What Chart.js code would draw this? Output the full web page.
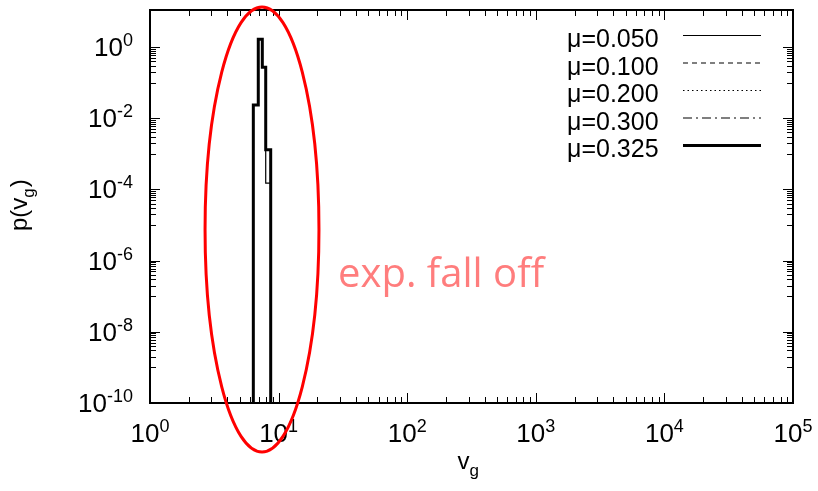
<!DOCTYPE html>
<html>
<head>
<meta charset="utf-8">
<style>
  html, body { margin: 0; padding: 0; background: #fff; }
  canvas { display: block; }
</style>
</head>
<body>
<canvas id="histChart" width="818" height="491"></canvas>
<script src="https://cdn.jsdelivr.net/npm/chart.js@4.4.1/dist/chart.umd.min.js"></script>
<script>
    // bin edges of the v_g histogram and p(v_g) per bin for each mu
    const binEdges = [6.36, 6.95, 7.47, 7.94, 8.68];
    const muLabels = ["μ=0.050", "μ=0.100", "μ=0.200", "μ=0.300", "μ=0.325"];
    const p050 = [0.0235, 1.65, 0.27, 1.5e-4];
    const p100 = [0.0235, 1.65, 0.27, 1.3e-3];
    const p200 = [0.0235, 1.65, 0.27, 1.3e-3];
    const p300 = [0.0235, 1.65, 0.27, 1.3e-3];
    const p325 = [0.0235, 1.65, 0.27, 1.3e-3];

    const xTickExp = [0, 1, 2, 3, 4, 5];
    const yTickExp = [0, -2, -4, -6, -8, -10];

    const yMin = 1e-10, yMax = 11;

    const lineStyles = [
        { width: 1.2, dash: [] },
        { width: 1.2, dash: [5, 4] },
        { width: 1.2, dash: [1.5, 3] },
        { width: 1.2, dash: [9, 4, 2, 4] },
        { width: 3, dash: [] }
    ];

    // histogram outline: rise from the floor, one step per bin, back down
    function outline(values) {
        const pts = [{ x: binEdges[0], y: yMin }];
        values.forEach((v, i) => pts.push({ x: binEdges[i], y: v }));
        pts.push({ x: binEdges[binEdges.length - 1], y: yMin });
        return pts;
    }

    const series = [p050, p100, p200, p300, p325];
    const datasets = series.map((vals, i) => ({
        label: muLabels[i],
        data: outline(vals),
        borderColor: "#000",
        borderWidth: lineStyles[i].width,
        borderDash: lineStyles[i].dash,
        stepped: "before",
        pointRadius: 0,
        fill: false,
        order: series.length - i
    }));

    function drawPower(ctx, exp, x, y, align) {
        const base = "10", sup = String(exp);
        ctx.font = "26px 'Liberation Sans', Arial, sans-serif";
        const wb = ctx.measureText(base).width;
        ctx.font = "18px 'Liberation Sans', Arial, sans-serif";
        const ws = ctx.measureText(sup).width;
        let left = align === "right" ? x - wb - ws : x - (wb + ws) / 2;
        ctx.textAlign = "left";
        ctx.textBaseline = "alphabetic";
        ctx.font = "26px 'Liberation Sans', Arial, sans-serif";
        ctx.fillText(base, left, y);
        ctx.font = "18px 'Liberation Sans', Arial, sans-serif";
        ctx.fillText(sup, left + wb, y - 10);
    }

    const framePlugin = {
        id: "gnuFrame",
        beforeDatasetsDraw(chart) {
            const ctx = chart.ctx, a = chart.chartArea;
            const xs = chart.scales.x, ys = chart.scales.y;
            ctx.save();
            ctx.strokeStyle = "#000";
            ctx.lineWidth = 1;
            ctx.beginPath();
            // x ticks, bottom and top, pointing inward
            for (let d = 0; d < 5; d++) {
                for (let k = 1; k <= 9; k++) {
                    const px = Math.round(xs.getPixelForValue(k * Math.pow(10, d))) + 0.5;
                    const len = k === 1 ? 10 : 6;
                    ctx.moveTo(px, a.bottom); ctx.lineTo(px, a.bottom - len);
                    ctx.moveTo(px, a.top); ctx.lineTo(px, a.top + len);
                }
            }
            // y ticks: majors every two decades, minors at k/10 of each major
            for (let e = 0; e >= -8; e -= 2) {
                const major = Math.pow(10, e);
                for (let k = 1; k <= 10; k++) {
                    const val = major * k / 10;
                    const py = Math.round(ys.getPixelForValue(val)) + 0.5;
                    const len = k === 10 ? 10 : 6;
                    ctx.moveTo(a.left, py); ctx.lineTo(a.left + len, py);
                    ctx.moveTo(a.right, py); ctx.lineTo(a.right - len, py);
                }
            }
            ctx.stroke();
            ctx.restore();
        },
        afterDraw(chart) {
            const ctx = chart.ctx, a = chart.chartArea;
            const xs = chart.scales.x, ys = chart.scales.y;
            ctx.save();
            // frame
            ctx.strokeStyle = "#000";
            ctx.lineWidth = 2;
            ctx.strokeRect(a.left, a.top, a.right - a.left, a.bottom - a.top);

            // tick labels
            ctx.fillStyle = "#000";
            xTickExp.forEach(e => {
                drawPower(ctx, e, xs.getPixelForValue(Math.pow(10, e)), a.bottom + 39, "center");
            });
            yTickExp.forEach(e => {
                drawPower(ctx, e, a.left - 17, ys.getPixelForValue(Math.pow(10, e)) + 9, "right");
            });

            // axis titles
            ctx.font = "24px 'Liberation Sans', Arial, sans-serif";
            ctx.textAlign = "left";
            ctx.textBaseline = "alphabetic";
            const vx = (a.left + a.right) / 2 - 14;
            ctx.fillText("v", vx, a.bottom + 66);
            const wv = ctx.measureText("v").width;
            ctx.font = "17px 'Liberation Sans', Arial, sans-serif";
            ctx.fillText("g", vx + wv, a.bottom + 73);

            ctx.save();
            ctx.translate(27, 231);
            ctx.rotate(-Math.PI / 2);
            ctx.font = "24px 'Liberation Sans', Arial, sans-serif";
            ctx.fillText("p(v", 0, 0);
            let w = ctx.measureText("p(v").width;
            ctx.font = "17px 'Liberation Sans', Arial, sans-serif";
            ctx.fillText("g", w, 7);
            w += ctx.measureText("g").width;
            ctx.font = "24px 'Liberation Sans', Arial, sans-serif";
            ctx.fillText(")", w + 1, 0);
            ctx.restore();

            // key
            chart.data.datasets.forEach((ds, i) => {
                const ly = a.top + 25 + i * 27.5;
                ctx.font = "25px 'Liberation Sans', Arial, sans-serif";
                ctx.textAlign = "left";
                ctx.fillText(ds.label, a.right - 226, ly + 12);
                ctx.beginPath();
                ctx.lineWidth = ds.borderWidth;
                ctx.setLineDash(ds.borderDash);
                ctx.moveTo(a.right - 110, ly + 0.5);
                ctx.lineTo(a.right - 32, ly + 0.5);
                ctx.stroke();
            });
            ctx.setLineDash([]);

            // ring around the peak and the note next to it
            const l = xs.getPixelForValue(2.68), r = xs.getPixelForValue(20.6);
            const t = ys.getPixelForValue(13.3), b = ys.getPixelForValue(4.2e-12);
            ctx.beginPath();
            ctx.strokeStyle = "#ff0000";
            ctx.lineWidth = 3;
            ctx.ellipse((l + r) / 2, (t + b) / 2, (r - l) / 2, (b - t) / 2, 0, 0, 2 * Math.PI);
            ctx.stroke();

            ctx.fillStyle = "rgb(255,125,125)";
            ctx.font = "40px 'Open Sans', sans-serif";
            ctx.textAlign = "left";
            ctx.fillText("exp. fall off", xs.getPixelForValue(29), ys.getPixelForValue(1.8e-7));
            ctx.restore();
        }
    };

    new Chart("histChart", {
        type: "line",
        data: { datasets: datasets },
        options: {
            responsive: false,
            animation: false,
            layout: { padding: { left: 150, right: 25, top: 10, bottom: 88 } },
            plugins: { legend: { display: false }, tooltip: { enabled: false } },
            scales: {
                x: { type: "logarithmic", min: 1, max: 1e5, display: false },
                y: { type: "logarithmic", min: yMin, max: yMax, display: false }
            }
        },
        plugins: [framePlugin]
    });
</script>
</body>
</html>
